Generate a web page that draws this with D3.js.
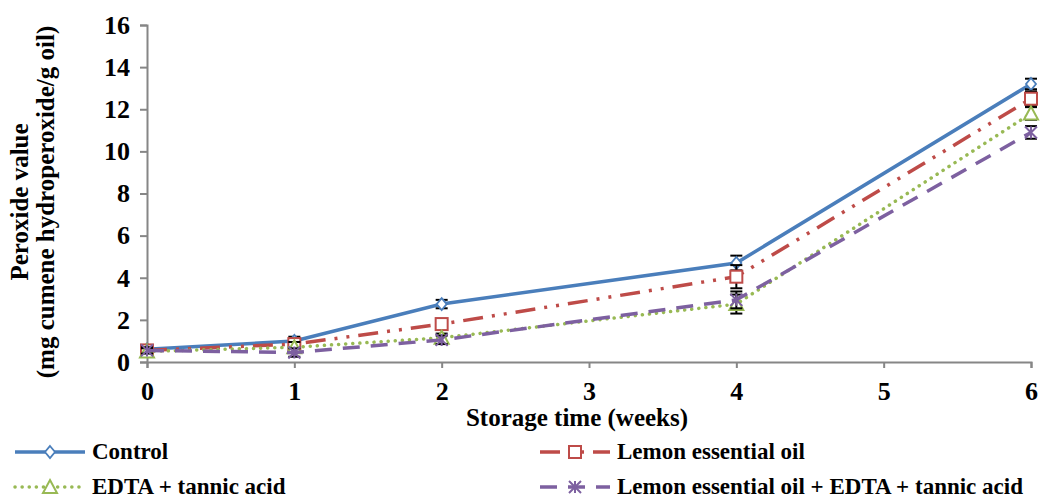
<!DOCTYPE html>
<html>
<head>
<meta charset="utf-8">
<script src="https://cdn.jsdelivr.net/npm/d3@7/dist/d3.min.js"></script>
<style>
  body { margin: 0; background: #fff; }
  svg text { font-family: "Liberation Serif", "Times New Roman", serif; font-weight: bold; fill: #000; }
</style>
</head>
<body>
<div id="chart"></div>
<script>
// data
const weeks = [0, 1, 2, 4, 6];
const xTicks = [0, 1, 2, 3, 4, 5, 6];
const yTicks = [0, 2, 4, 6, 8, 10, 12, 14, 16];

const controlValues = [0.6, 1.0, 2.75, 4.7, 13.2];
const controlErrors = [0.15, 0.2, 0.2, 0.35, 0.25];
const lemonValues = [0.55, 0.85, 1.8, 4.05, 12.5];
const lemonErrors = [0.15, 0.25, 0.25, 0.55, 0.35];
const edtaValues = [0.5, 0.7, 1.15, 2.75, 11.8];
const edtaErrors = [0.15, 0.25, 0.2, 0.45, 0.3];
const comboValues = [0.55, 0.45, 1.05, 2.95, 10.9];
const comboErrors = [0.15, 0.2, 0.2, 0.4, 0.3];

const seriesNames = ["Control", "Lemon essential oil", "EDTA + tannic acid", "Lemon essential oil + EDTA + tannic acid"];

const series = [
  { name: seriesNames[0], values: controlValues, errors: controlErrors, color: "#4a7ebb", dash: null, cap: "butt", marker: "diamond" },
  { name: seriesNames[1], values: lemonValues, errors: lemonErrors, color: "#be4b48", dash: "20,9,3,9,3,9", cap: "butt", marker: "square" },
  { name: seriesNames[2], values: edtaValues, errors: edtaErrors, color: "#98b954", dash: "0.1,7", cap: "round", marker: "triangle" },
  { name: seriesNames[3], values: comboValues, errors: comboErrors, color: "#7d60a0", dash: "17,11", cap: "butt", marker: "star" },
];

const W = 1046, H = 499;
const margin = { left: 147, right: 15, top: 25, bottom: 137 };

const svg = d3.select("#chart").append("svg").attr("width", W).attr("height", H);

const x = d3.scaleLinear().domain([0, 6]).range([margin.left, W - margin.right]);
const y = d3.scaleLinear().domain([0, 16]).range([H - margin.bottom, margin.top]);

// axes
const xAxis = svg.append("g")
  .attr("transform", `translate(0,${y(0)})`)
  .call(d3.axisBottom(x).tickValues(xTicks).tickFormat(d3.format("d")).tickSize(6).tickPadding(14));
const yAxis = svg.append("g")
  .attr("transform", `translate(${x(0)},0)`)
  .call(d3.axisLeft(y).tickValues(yTicks).tickFormat(d3.format("d")).tickSize(7).tickPadding(10));

[xAxis, yAxis].forEach(g => {
  g.select(".domain").attr("stroke", "#868686").attr("stroke-width", 2);
  g.selectAll(".tick line").attr("stroke", "#868686").attr("stroke-width", 2);
  g.selectAll(".tick text").style("font-size", "26px").style("font-family", "Liberation Serif, serif").style("font-weight", "bold");
});

// axis titles
svg.append("text").attr("x", x(3) - 12).attr("y", 426).attr("text-anchor", "middle")
  .style("font-size", "25px").text("Storage time (weeks)");
const yTitle = svg.append("text").attr("transform", `translate(0,202) rotate(-90)`).attr("text-anchor", "middle")
  .style("font-size", "25px");
yTitle.append("tspan").attr("x", 0).attr("y", 28).text("Peroxide value");
yTitle.append("tspan").attr("x", 0).attr("y", 54).text("(mg cumene hydroperoxide/g oil)");

function drawMarker(g, type, color, cx, cy) {
  if (type === "diamond") {
    g.append("path").attr("d", `M${cx},${cy - 6}L${cx + 5},${cy}L${cx},${cy + 6}L${cx - 5},${cy}Z`)
      .attr("fill", "#fff").attr("stroke", color).attr("stroke-width", 1.8);
  } else if (type === "square") {
    g.append("rect").attr("x", cx - 6).attr("y", cy - 6).attr("width", 12).attr("height", 12)
      .attr("fill", "#fff").attr("stroke", color).attr("stroke-width", 2);
  } else if (type === "triangle") {
    g.append("path").attr("d", `M${cx},${cy - 7}L${cx + 7},${cy + 6}L${cx - 7},${cy + 6}Z`)
      .attr("fill", "#fff").attr("stroke", color).attr("stroke-width", 2);
  } else {
    const s = 6;
    g.append("path").attr("d", `M${cx - s},${cy - s}L${cx + s},${cy + s}M${cx - s},${cy + s}L${cx + s},${cy - s}M${cx},${cy - s}L${cx},${cy + s}`)
      .attr("stroke", color).attr("stroke-width", 2).attr("fill", "none");
  }
}

const line = d3.line().x(d => x(d[0])).y(d => y(d[1]));

series.forEach(s => {
  const pts = weeks.map((w, i) => [w, s.values[i], s.errors[i]]);
  const g = svg.append("g");
  g.append("path").datum(pts).attr("d", line)
    .attr("fill", "none").attr("stroke", s.color).attr("stroke-width", 3.5)
    .attr("stroke-linecap", s.cap)
    .attr("stroke-dasharray", s.dash);
  // error bars
  pts.forEach(p => {
    const eg = g.append("g").attr("stroke", "#000").attr("stroke-width", 2);
    eg.append("line").attr("x1", x(p[0])).attr("x2", x(p[0])).attr("y1", y(p[1] - p[2])).attr("y2", y(p[1] + p[2]));
    [p[1] - p[2], p[1] + p[2]].forEach(v => {
      eg.append("line").attr("x1", x(p[0]) - 6).attr("x2", x(p[0]) + 6).attr("y1", y(v)).attr("y2", y(v));
    });
  });
  pts.forEach(p => drawMarker(g, s.marker, s.color, x(p[0]), y(p[1])));
});

// legend
const legendPos = [
  { x: 15, y: 452 }, { x: 540, y: 452 }, { x: 15, y: 487 }, { x: 540, y: 487 },
];
series.forEach((s, i) => {
  const p = legendPos[i];
  const g = svg.append("g");
  g.append("line").attr("x1", p.x).attr("x2", p.x + 70).attr("y1", p.y).attr("y2", p.y)
    .attr("stroke", s.color).attr("stroke-width", 3.5)
    .attr("stroke-linecap", s.cap).attr("stroke-dasharray", s.dash);
  drawMarker(g, s.marker, s.color, p.x + 35, p.y);
  g.append("text").attr("x", p.x + 77).attr("y", p.y + 7).style("font-size", "23px").text(s.name);
});
</script>
</body>
</html>
